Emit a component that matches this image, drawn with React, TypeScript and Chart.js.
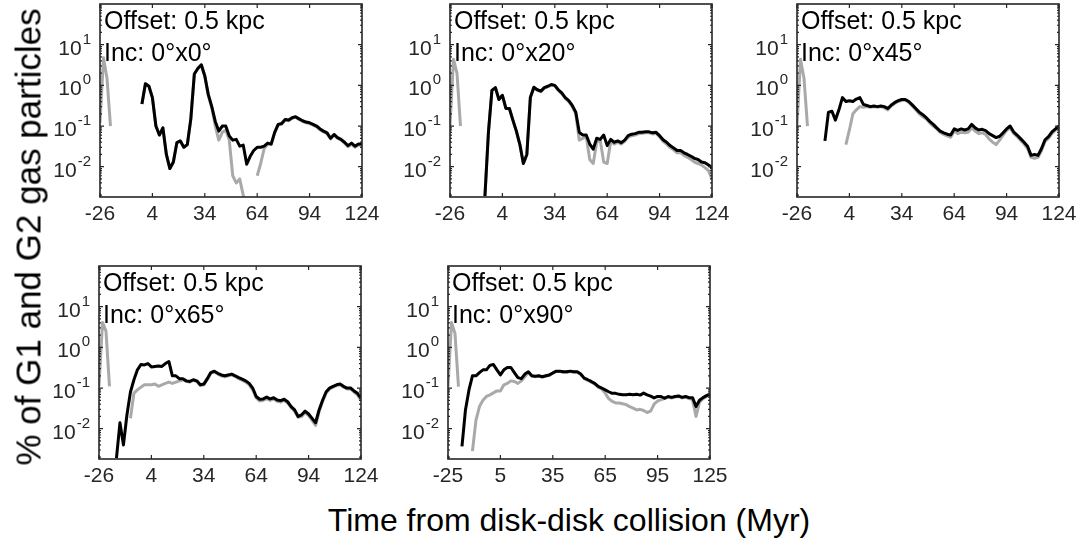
import React, { useEffect, useRef } from "react";
import { Chart, registerables } from "chart.js";

Chart.register(...registerables);

// ---------- data ----------
const timesA = [-26,-24,-22,-20,-18,-16,-14,-12,-10,-8,-6,-4,-2,0,2,4,6,8,10,12,14,16,18,20,22,24,26,28,30,32,34,36,38,40,42,44,46,48,50,52,54,56,58,60,62,64,66,68,70,72,74,76,78,80,82,84,86,88,90,92,94,96,98,100,102,104,106,108,110,112,114,116,118,120,122,124];
const timesB = [-25,-23,-21,-19,-17,-15,-13,-11,-9,-7,-5,-3,-1,1,3,5,7,9,11,13,15,17,19,21,23,25,27,29,31,33,35,37,39,41,43,45,47,49,51,53,55,57,59,61,63,65,67,69,71,73,75,77,79,81,83,85,87,89,91,93,95,97,99,101,103,105,107,109,111,113,115,117,119,121,123,125];

const xTicksA = [-26, 4, 34, 64, 94, 124];
const xTicksB = [-25, 5, 35, 65, 95, 125];
const yTickVals = [0.01, 0.1, 1, 10];
const yTickBase = ["10", "10", "10", "10"];
const yTickExp = ["-2", "-1", "0", "1"];
const yMin = 0.0018;
const yMax = 100;

const offsetLabel = "Offset: 0.5 kpc";
const incLabels = ["Inc: 0°x0°", "Inc: 0°x20°", "Inc: 0°x45°", "Inc: 0°x65°", "Inc: 0°x90°"];
const yTitle = "% of G1 and G2 gas particles";
const xTitle = "Time from disk-disk collision (Myr)";

const p1Black = [
  null,null,null,null,null,null,null,null,null,null,
  null,null,0.35,1.1,0.95,0.5,0.1,0.06,0.09,0.02,
  0.009,0.013,0.039,0.043,0.03,0.035,0.15,1.9,2.6,3.2,
  1.7,0.6,0.3,0.13,0.075,0.1,0.1,0.057,0.045,0.047,
  0.032,0.034,0.0115,0.018,0.025,0.03,0.03,0.032,0.038,0.036,
  0.07,0.11,0.115,0.145,0.14,0.16,0.17,0.15,0.135,0.125,
  0.12,0.11,0.1,0.085,0.075,0.068,0.05,0.062,0.052,0.047,
  0.04,0.033,0.038,0.032,0.036,0.036];
const p1Gray = [
  0.12,4.8,1.5,0.1,null,null,null,null,null,null,
  null,null,0.35,1.1,0.95,0.5,0.1,0.06,0.09,0.02,
  0.009,0.013,0.039,0.043,0.03,0.035,0.15,1.9,2.6,3.2,
  1.7,0.55,0.28,0.1,0.045,0.07,0.08,0.045,0.006,0.004,
  0.005,0.002,0.0011,0.0016,null,0.006,0.012,0.028,0.036,0.035,
  0.068,0.105,0.11,0.14,0.135,0.155,0.165,0.145,0.13,0.12,
  0.115,0.105,0.095,0.08,0.072,0.065,0.048,0.06,0.05,0.045,
  0.038,0.031,0.036,0.03,0.034,0.033];

const p2Black = [
  null,null,null,null,null,null,null,null,null,null,
  0.0019,0.07,0.75,0.88,0.45,0.57,0.27,0.27,0.14,0.075,
  0.035,0.012,0.02,0.5,0.9,0.78,0.72,0.88,0.95,1.05,
  1.0,0.78,0.65,0.5,0.42,0.32,0.22,0.07,0.06,0.06,
  0.036,0.027,0.05,0.047,0.06,0.033,0.047,0.04,0.043,0.039,
  0.045,0.058,0.063,0.065,0.07,0.07,0.072,0.072,0.068,0.07,
  0.058,0.046,0.04,0.033,0.029,0.025,0.025,0.022,0.02,0.018,
  0.016,0.015,0.013,0.0125,0.011,0.0095];
const p2Gray = [
  0.1,4.4,2.0,0.1,null,null,null,null,null,null,
  0.0019,0.07,0.75,0.88,0.45,0.57,0.27,0.27,0.14,0.075,
  0.035,0.012,0.02,0.5,0.85,0.76,0.7,0.85,0.92,1.0,
  0.97,0.75,0.62,0.48,0.4,0.3,0.2,0.045,0.05,0.055,
  0.015,0.012,0.04,0.045,0.013,0.012,0.042,0.036,0.04,0.036,
  0.042,0.053,0.058,0.06,0.065,0.066,0.068,0.068,0.064,0.066,
  0.054,0.042,0.036,0.03,0.026,0.022,0.022,0.019,0.017,0.015,
  0.013,0.012,0.011,0.0095,0.008,0.005];

const p3Black = [
  null,null,null,null,null,null,null,null,0.043,0.22,
  0.23,0.14,0.25,0.5,0.4,0.42,0.4,0.46,0.5,0.34,
  0.32,0.3,0.31,0.3,0.31,0.3,0.27,0.33,0.38,0.42,
  0.45,0.45,0.4,0.33,0.27,0.22,0.19,0.16,0.13,0.11,
  0.09,0.075,0.068,0.063,0.06,0.085,0.078,0.085,0.08,0.085,
  0.11,0.09,0.08,0.083,0.077,0.065,0.058,0.052,0.056,0.068,
  0.085,0.1,0.072,0.06,0.049,0.04,0.032,0.019,0.02,0.019,
  0.028,0.046,0.055,0.072,0.085,0.1];
const p3Gray = [
  0.1,4.4,1.5,0.1,null,null,null,null,null,null,
  null,null,null,null,0.035,0.08,0.2,0.25,0.3,0.29,
  0.3,0.29,0.3,0.29,0.3,0.28,0.25,0.31,0.36,0.4,
  0.43,0.43,0.38,0.31,0.25,0.2,0.17,0.15,0.12,0.1,
  0.085,0.07,0.062,0.057,0.053,0.075,0.065,0.07,0.068,0.07,
  0.09,0.075,0.065,0.068,0.062,0.048,0.04,0.035,0.045,0.06,
  0.078,0.09,0.066,0.055,0.045,0.036,0.028,0.017,0.016,0.017,
  0.025,0.042,0.05,0.066,0.08,0.092];

const p4Black = [
  null,null,null,null,null,0.0019,0.014,0.004,0.022,0.08,
  0.16,0.28,0.38,0.37,0.4,0.33,0.34,0.35,0.34,0.4,
  0.45,0.2,0.2,0.17,0.17,0.15,0.145,0.16,0.15,0.12,
  0.125,0.17,0.24,0.26,0.23,0.21,0.2,0.21,0.22,0.2,
  0.18,0.165,0.15,0.13,0.1,0.062,0.053,0.054,0.06,0.054,
  0.058,0.051,0.049,0.053,0.046,0.035,0.029,0.02,0.022,0.027,
  0.023,0.018,0.014,0.029,0.05,0.08,0.1,0.11,0.12,0.125,
  0.11,0.1,0.1,0.085,0.074,0.056];
const p4Gray = [
  0.11,4.1,2.5,0.11,null,null,null,null,null,0.018,
  0.075,0.09,0.105,0.12,0.12,0.12,0.125,0.11,0.12,0.13,
  0.14,0.13,0.14,0.15,0.16,0.145,0.14,0.155,0.145,0.115,
  0.12,0.16,0.23,0.25,0.22,0.2,0.19,0.2,0.21,0.19,
  0.17,0.155,0.14,0.12,0.09,0.057,0.048,0.05,0.055,0.05,
  0.054,0.047,0.045,0.05,0.043,0.033,0.027,0.019,0.02,0.025,
  0.021,0.016,0.012,0.026,0.046,0.075,0.095,0.105,0.115,0.12,
  0.105,0.095,0.095,0.08,0.068,0.05];

const p5Black = [
  null,null,null,null,0.0037,0.029,0.09,0.2,0.2,0.24,
  0.28,0.28,0.36,0.38,0.28,0.21,0.28,0.32,0.32,0.24,
  0.18,0.17,0.22,0.25,0.2,0.195,0.2,0.19,0.2,0.21,
  0.235,0.26,0.26,0.25,0.25,0.26,0.25,0.25,0.22,0.175,
  0.16,0.145,0.13,0.11,0.1,0.09,0.081,0.074,0.074,0.07,
  0.068,0.068,0.07,0.068,0.07,0.067,0.075,0.068,0.063,0.057,
  0.062,0.062,0.056,0.062,0.059,0.062,0.064,0.059,0.062,0.058,
  0.058,0.035,0.05,0.058,0.065,0.071];
const p5Gray = [
  0.108,4.1,2.2,0.108,null,null,null,0.0028,0.016,0.035,
  0.05,0.062,0.068,0.076,0.085,0.085,0.12,0.13,0.15,0.145,
  0.13,0.15,0.19,0.24,0.195,0.19,0.195,0.185,0.195,0.205,
  0.23,0.255,0.255,0.245,0.245,0.255,0.245,0.245,0.215,0.17,
  0.155,0.14,0.125,0.105,0.095,0.075,0.055,0.047,0.043,0.043,
  0.041,0.039,0.035,0.032,0.029,0.03,0.028,0.025,0.027,0.04,
  0.048,0.052,0.055,0.06,0.057,0.06,0.062,0.057,0.06,0.055,
  0.052,0.02,0.045,0.055,0.062,0.068];

// ---------- layout ----------
const FONT = "'Liberation Sans', Arial, Helvetica, sans-serif";
const AXIS_COLOR = "#262626";
const Y_AXIS_W = 70;
const PAD_TOP = 16;
const PAD_RIGHT = 24;
const X_AXIS_H = 40;
const PLOT_W = 262;
const PLOT_H = 193;

type PanelCfg = {
  times: number[];
  black: (number | null)[];
  gray: (number | null)[];
  xTicks: number[];
  inc: string;
  left: number;
  top: number;
};

const panels: PanelCfg[] = [
  { times: timesA, black: p1Black, gray: p1Gray, xTicks: xTicksA, inc: incLabels[0], left: 100, top: 4 },
  { times: timesA, black: p2Black, gray: p2Gray, xTicks: xTicksA, inc: incLabels[1], left: 450, top: 4 },
  { times: timesA, black: p3Black, gray: p3Gray, xTicks: xTicksA, inc: incLabels[2], left: 797, top: 4 },
  { times: timesA, black: p4Black, gray: p4Gray, xTicks: xTicksA, inc: incLabels[3], left: 99, top: 266 },
  { times: timesB, black: p5Black, gray: p5Gray, xTicks: xTicksB, inc: incLabels[4], left: 448, top: 266 },
];

const decorPlugin = {
  id: "decor",
  afterDatasetsDraw(chart: any, _args: any, opts: any) {
    const { ctx, chartArea: a, scales } = chart;
    const xs = scales.x;
    const ys = scales.y;
    ctx.save();
    // inward tick marks
    ctx.strokeStyle = AXIS_COLOR;
    ctx.lineWidth = 1.2;
    ctx.beginPath();
    for (const v of opts.xTicks) {
      const px = xs.getPixelForValue(v);
      ctx.moveTo(px, a.bottom);
      ctx.lineTo(px, a.bottom - 4);
      ctx.moveTo(px, a.top);
      ctx.lineTo(px, a.top + 4);
    }
    for (let e = -3; e < 2; e++) {
      for (let k = 1; k < 10; k++) {
        const v = k * Math.pow(10, e);
        if (v < yMin || v > yMax) continue;
        const py = ys.getPixelForValue(v);
        const len = k === 1 ? 4 : 2;
        ctx.moveTo(a.left, py);
        ctx.lineTo(a.left + len, py);
        ctx.moveTo(a.right, py);
        ctx.lineTo(a.right - len, py);
      }
    }
    ctx.stroke();
    ctx.lineWidth = 1.6;
    ctx.strokeRect(a.left, a.top, a.right - a.left, a.bottom - a.top);

    // y tick labels 10^n
    ctx.fillStyle = AXIS_COLOR;
    ctx.textBaseline = "alphabetic";
    ctx.textAlign = "left";
    yTickVals.forEach((v, i) => {
      const py = ys.getPixelForValue(v);
      ctx.font = `21px ${FONT}`;
      const wb = ctx.measureText(yTickBase[i]).width;
      ctx.font = `15px ${FONT}`;
      const we = ctx.measureText(yTickExp[i]).width;
      const right = a.left - 9;
      const x0 = right - we - 1 - wb;
      ctx.font = `21px ${FONT}`;
      ctx.fillText(yTickBase[i], x0, py + 10);
      ctx.font = `15px ${FONT}`;
      ctx.fillText(yTickExp[i], x0 + wb + 1, py - 1);
    });

    // panel annotation
    ctx.fillStyle = "#000";
    ctx.font = `25px ${FONT}`;
    ctx.fillText(opts.line1, a.left + 4, a.top + 25);
    ctx.fillText(opts.line2, a.left + 4, a.top + 57);
    ctx.restore();
  },
};

function Panel({ cfg }: { cfg: PanelCfg }) {
  const ref = useRef<HTMLCanvasElement>(null);
  const W = Y_AXIS_W + PLOT_W + PAD_RIGHT;
  const H = PAD_TOP + PLOT_H + X_AXIS_H;
  useEffect(() => {
    const tickFont = { family: FONT, size: 21 };
    const chart = new Chart(ref.current as HTMLCanvasElement, {
      type: "line",
      data: {
        datasets: [
          {
            data: cfg.times.map((t, i) => ({ x: t, y: cfg.black[i] })) as any,
            borderColor: "#000000",
            borderWidth: 3,
            pointRadius: 0,
            tension: 0,
            spanGaps: false,
            borderJoinStyle: "round",
          },
          {
            data: cfg.times.map((t, i) => ({ x: t, y: cfg.gray[i] })) as any,
            borderColor: "#a9a9a9",
            borderWidth: 3,
            pointRadius: 0,
            tension: 0,
            spanGaps: false,
            borderJoinStyle: "round",
          },
        ],
      },
      options: {
        animation: false,
        responsive: false,
        events: [],
        layout: { padding: { top: PAD_TOP, right: PAD_RIGHT, left: 0, bottom: 0 } },
        plugins: {
          legend: { display: false },
          tooltip: { enabled: false },
          decor: { xTicks: cfg.xTicks, line1: offsetLabel, line2: cfg.inc },
        } as any,
        scales: {
          x: {
            type: "linear",
            min: cfg.xTicks[0],
            max: cfg.xTicks[cfg.xTicks.length - 1],
            grid: { display: false, drawTicks: false },
            border: { display: false },
            ticks: {
              font: tickFont,
              color: AXIS_COLOR,
              padding: 5,
              maxRotation: 0,
              autoSkip: false,
              callback: (v: any) => String(v),
            },
            afterBuildTicks: (s: any) => {
              s.ticks = cfg.xTicks.map((v) => ({ value: v }));
            },
            afterFit: (s: any) => {
              s.height = X_AXIS_H;
            },
          },
          y: {
            type: "logarithmic",
            min: yMin,
            max: yMax,
            grid: { display: false, drawTicks: false },
            border: { display: false },
            ticks: { display: false },
            afterBuildTicks: (s: any) => {
              s.ticks = yTickVals.map((v) => ({ value: v, major: true }));
            },
            afterFit: (s: any) => {
              s.width = Y_AXIS_W;
            },
          },
        },
      },
      plugins: [decorPlugin],
    });
    return () => chart.destroy();
  }, [cfg]);
  return (
    <canvas
      ref={ref}
      width={W}
      height={H}
      style={{
        position: "absolute",
        left: cfg.left - Y_AXIS_W,
        top: cfg.top - PAD_TOP,
        width: W,
        height: H,
      }}
    />
  );
}

export default function App() {
  return (
    <div
      style={{
        position: "fixed",
        left: 0,
        top: 0,
        width: 1085,
        height: 545,
        background: "#ffffff",
        overflow: "hidden",
        fontFamily: FONT,
      }}
    >
      {panels.map((p, i) => (
        <Panel key={i} cfg={p} />
      ))}
      <div
        style={{
          position: "absolute",
          left: 28,
          top: 237,
          transform: "translate(-50%, -50%) rotate(-90deg)",
          whiteSpace: "nowrap",
          fontSize: 35,
          lineHeight: 1,
          color: "#000",
        }}
      >
        {yTitle}
      </div>
      <div
        style={{
          position: "absolute",
          left: 569,
          top: 520,
          transform: "translate(-50%, -50%)",
          whiteSpace: "nowrap",
          fontSize: 32,
          lineHeight: 1,
          color: "#000",
        }}
      >
        {xTitle}
      </div>
    </div>
  );
}
